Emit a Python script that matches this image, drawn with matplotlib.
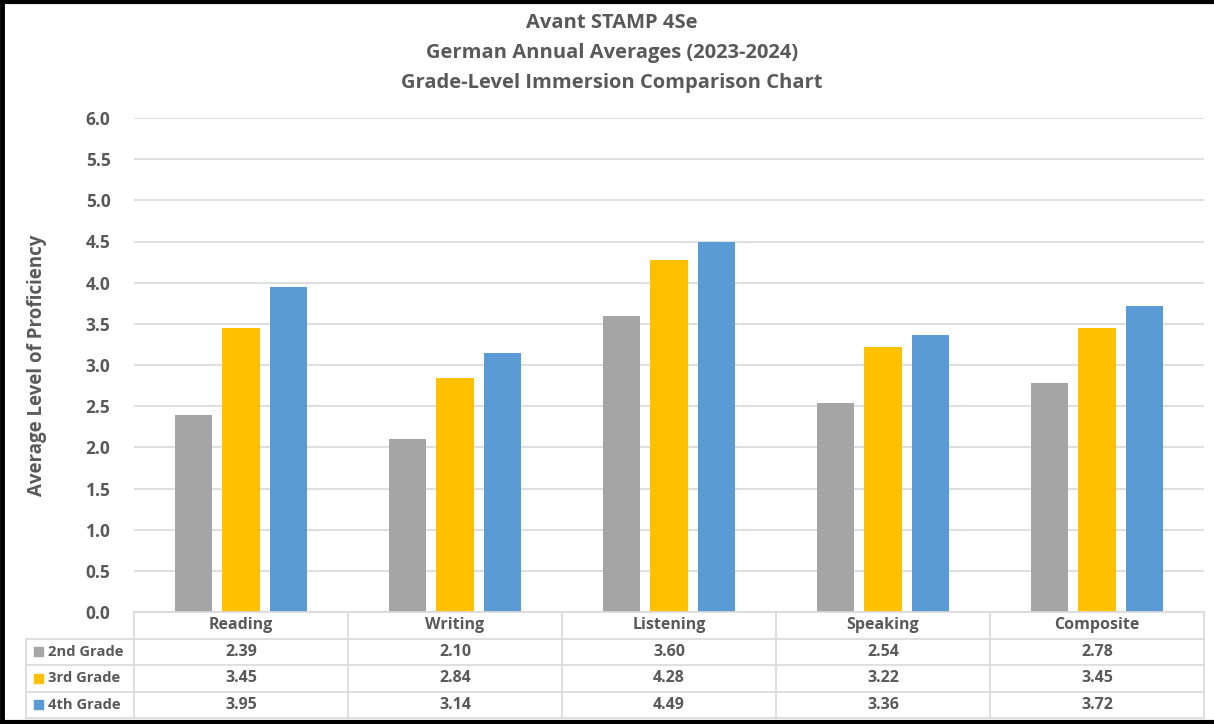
import matplotlib
matplotlib.use("Agg")
import matplotlib.pyplot as plt
from matplotlib.patches import Rectangle
import numpy as np

# ---- data ----
categories = ["Reading", "Writing", "Listening", "Speaking", "Composite"]
series_names = ["2nd Grade", "3rd Grade", "4th Grade"]
grade2 = [2.39, 2.10, 3.60, 2.54, 2.78]
grade3 = [3.45, 2.84, 4.28, 3.22, 3.45]
grade4 = [3.95, 3.14, 4.49, 3.36, 3.72]
colors = ["#A5A5A5", "#FFC000", "#5B9BD5"]
title_lines = ["Avant STAMP 4Se", "German Annual Averages (2023-2024)",
               "Grade-Level Immersion Comparison Chart"]
ylabel = "Average Level of Proficiency"
yticks = [0.0, 0.5, 1.0, 1.5, 2.0, 2.5, 3.0, 3.5, 4.0, 4.5, 5.0, 5.5, 6.0]

series = [grade2, grade3, grade4]
TXT = "#595959"
GRID = "#D9D9D9"
FONT = "Open Sans"

W, H = 1214, 724
fig = plt.figure(figsize=(W / 100, H / 100), dpi=100)
fig.patch.set_facecolor("white")

# layout (pixels)
ax_l, ax_r, ax_t, ax_b = 134, 1204, 118, 612
ax = fig.add_axes([ax_l / W, 1 - ax_b / H, (ax_r - ax_l) / W, (ax_b - ax_t) / H])
n = len(categories)
x = np.arange(n)
bw = 0.173
step = 0.224
for k, (vals, c) in enumerate(zip(series, colors)):
    ax.bar(x + (k - 1) * step, vals, width=bw, color=c, zorder=3, label=series_names[k])
ax.set_xlim(-0.5, n - 0.5)
ax.set_ylim(0, 6.0)
ax.set_yticks(yticks)
ax.set_yticklabels([f"{v:.1f}" for v in yticks], fontsize=12.5, fontweight="bold",
                   color=TXT, family=FONT)
ax.tick_params(axis="y", length=0, pad=17)
ax.set_xticks([])
ax.grid(axis="y", color=GRID, linewidth=1.2, zorder=0)
for s in ax.spines.values():
    s.set_visible(False)
ax.set_ylabel(ylabel, fontsize=13.5, fontweight="bold", color=TXT, family=FONT, labelpad=28)

# title
for i, line in enumerate(title_lines):
    fig.text(612 / W, 1 - (23 + i * 30) / H, line, ha="center", va="center",
             fontsize=14.5, fontweight="bold", color=TXT, family=FONT)

# table overlay in pixel coordinates
tab = fig.add_axes([0, 0, 1, 1])
tab.set_xlim(0, W)
tab.set_ylim(H, 0)
tab.axis("off")
row_tops = [612, 638.5, 665, 691.5, 718]
lab_l = 26
colw = (ax_r - ax_l) / n
lc = "#D9D9D9"
# horizontal lines
tab.plot([ax_l, ax_r], [row_tops[0]] * 2, color=lc, lw=1.2)
for yv in row_tops[1:]:
    tab.plot([lab_l, ax_r], [yv] * 2, color=lc, lw=1.2)
# vertical lines
tab.plot([lab_l, lab_l], [row_tops[1], row_tops[-1]], color=lc, lw=1.2)
for j in range(n + 1):
    xv = ax_l + j * colw
    tab.plot([xv, xv], [row_tops[0], row_tops[-1]], color=lc, lw=1.2)
# header
for j, cat in enumerate(categories):
    tab.text(ax_l + (j + 0.5) * colw, (row_tops[0] + row_tops[1]) / 2, cat,
             ha="center", va="center", fontsize=11.5, fontweight="bold", color=TXT, family=FONT)
# rows
for i, (name, vals, c) in enumerate(zip(series_names, series, colors)):
    yc = (row_tops[i + 1] + row_tops[i + 2]) / 2
    tab.add_patch(Rectangle((lab_l + 8, yc - 4.5), 9, 9, color=c))
    tab.text(lab_l + 22, yc, name, ha="left", va="center", fontsize=10.6,
             fontweight="bold", color=TXT, family=FONT)
    for j, v in enumerate(vals):
        tab.text(ax_l + (j + 0.5) * colw, yc, f"{v:.2f}", ha="center", va="center",
                 fontsize=11.5, fontweight="bold", color=TXT, family=FONT)

# black frame (top, left, bottom)
tab.plot([0, W], [1.5, 1.5], color="black", lw=3)
tab.plot([2, 2], [0, H], color="black", lw=3.5)
tab.plot([0, W], [721.5, 721.5], color="black", lw=3)

fig.savefig("out.png", dpi=100, facecolor="white")
